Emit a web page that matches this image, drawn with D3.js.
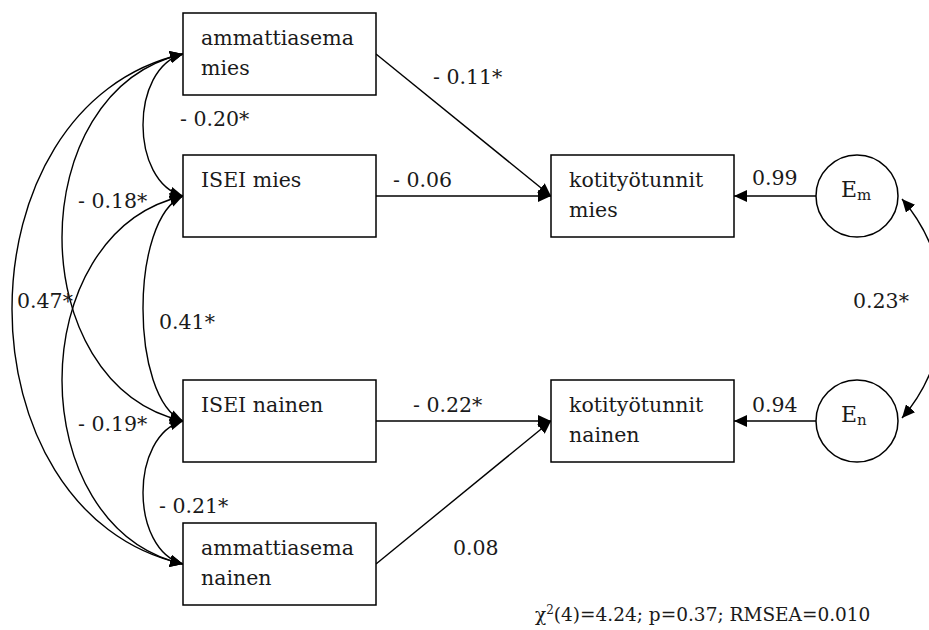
<!DOCTYPE html>
<html>
<head>
<meta charset="utf-8">
<script src="https://cdn.jsdelivr.net/npm/d3@7"></script>
<style>
  html, body { margin: 0; padding: 0; background: #fff; }
  svg { display: block; }
  text { font-family: "DejaVu Serif", "Liberation Serif", serif; fill: #1a1a1a; }
</style>
</head>
<body>
<svg id="chart" width="929" height="630"></svg>
<script>
// ---------- DATA ----------
const predictorLabels = [["ammattiasema", "mies"], ["ISEI mies"], ["ISEI nainen"], ["ammattiasema", "nainen"]];
const outcomeLabels = [["kotityötunnit", "mies"], ["kotityötunnit", "nainen"]];
const errorLabels = [["E", "m"], ["E", "n"]];
const pathFrom = [0, 1, 2, 3];
const pathTo = [0, 0, 1, 1];
const pathValues = ["- 0.11*", "- 0.06", "- 0.22*", "0.08"];
const errorLoadings = ["0.99", "0.94"];
const covPairs = [[0, 1], [0, 2], [0, 3], [1, 2], [1, 3], [2, 3]];
const covValues = ["- 0.20*", "- 0.18*", "0.47*", "0.41*", "- 0.19*", "- 0.21*"];
const errorCovValue = "0.23*";
const fitStat = ["χ", "2", "(4)=4.24; p=0.37; RMSEA=0.010"];

// ---------- LAYOUT ----------
const predRow = d3.scaleOrdinal().domain([0, 1, 2, 3]).range([13, 155, 380, 523]);
const outRow = d3.scaleOrdinal().domain([0, 1]).range([155, 380]);
const col = d3.scaleOrdinal().domain(["pred", "out", "err"]).range([183, 551, 857]);
const predW = 193, outW = 183, boxH = 82, errR = 41;
const covBulge = [40, 121, 171, 40, 121, 40];
const pathLabelPos = [[433, 84], [393, 187], [413, 412], [453, 555]];
const loadLabelPos = [[752, 185], [752, 412]];
const covLabelPos = [[180, 126], [78, 208], [17, 308], [159, 329], [78, 431], [159, 513]];
const fontSize = 20.5;

const svg = d3.select("#chart");
svg.append("defs").append("marker")
  .attr("id", "arrow")
  .attr("markerUnits", "userSpaceOnUse")
  .attr("viewBox", "0 0 13 12")
  .attr("markerWidth", 13).attr("markerHeight", 12)
  .attr("refX", 13).attr("refY", 6)
  .attr("orient", "auto-start-reverse")
  .append("path").attr("d", "M0,0L13,6L0,12Z").attr("fill", "#000");

const midPred = i => predRow(i) + boxH / 2;
const midOut = i => outRow(i) + boxH / 2;

// ---------- covariance arcs (left) ----------
const gCov = svg.append("g");
covPairs.forEach((p, i) => {
  const x = col("pred");
  const y1 = midPred(p[0]), y2 = midPred(p[1]);
  const chord = y2 - y1;
  const a = covBulge[i] / 0.75;
  const b = chord * 0.1;
  const path = d3.path();
  path.moveTo(x, y1);
  path.bezierCurveTo(x - a, y1 + b, x - a, y2 - b, x, y2);
  gCov.append("path").attr("d", path.toString())
    .attr("fill", "none").attr("stroke", "#000").attr("stroke-width", 1.4)
    .attr("marker-start", "url(#arrow)").attr("marker-end", "url(#arrow)");
  gCov.append("text").attr("x", covLabelPos[i][0]).attr("y", covLabelPos[i][1])
    .attr("font-size", fontSize).text(covValues[i]);
});

// ---------- regression paths ----------
pathFrom.forEach((f, i) => {
  const x1 = col("pred") + predW, y1 = midPred(f);
  const x2 = col("out"), y2 = midOut(pathTo[i]);
  svg.append("path").attr("d", d3.line()([[x1, y1], [x2, y2]]))
    .attr("fill", "none").attr("stroke", "#000").attr("stroke-width", 1.4)
    .attr("marker-end", "url(#arrow)");
  svg.append("text").attr("x", pathLabelPos[i][0]).attr("y", pathLabelPos[i][1])
    .attr("font-size", fontSize).text(pathValues[i]);
});

// ---------- error loadings ----------
errorLoadings.forEach((v, i) => {
  const y = midOut(i);
  svg.append("path").attr("d", d3.line()([[col("err") - errR, y], [col("out") + outW, y]]))
    .attr("fill", "none").attr("stroke", "#000").attr("stroke-width", 1.4)
    .attr("marker-end", "url(#arrow)");
  svg.append("text").attr("x", loadLabelPos[i][0]).attr("y", loadLabelPos[i][1])
    .attr("font-size", fontSize).text(v);
});

// ---------- error covariance (right) ----------
{
  const y1 = midOut(0) + 3, y2 = midOut(1) - 3;
  const x = col("err") + errR + 4;
  const r = 166.6;
  svg.append("path").attr("d", `M${x},${y1} A${r},${r} 0 0 1 ${x},${y2}`)
    .attr("fill", "none").attr("stroke", "#000").attr("stroke-width", 1.4)
    .attr("marker-start", "url(#arrow)").attr("marker-end", "url(#arrow)");
  svg.append("text").attr("x", 853).attr("y", 308).attr("font-size", fontSize).text(errorCovValue);
}

// ---------- boxes ----------
predictorLabels.forEach((lines, i) => {
  const g = svg.append("g");
  g.append("rect").attr("x", col("pred")).attr("y", predRow(i))
    .attr("width", predW).attr("height", boxH)
    .attr("fill", "#fff").attr("stroke", "#000").attr("stroke-width", 1.5);
  lines.forEach((t, j) => {
    g.append("text").attr("x", col("pred") + 18).attr("y", predRow(i) + 32 + j * 30)
      .attr("font-size", fontSize).text(t);
  });
});
outcomeLabels.forEach((lines, i) => {
  const g = svg.append("g");
  g.append("rect").attr("x", col("out")).attr("y", outRow(i))
    .attr("width", outW).attr("height", boxH)
    .attr("fill", "#fff").attr("stroke", "#000").attr("stroke-width", 1.5);
  lines.forEach((t, j) => {
    g.append("text").attr("x", col("out") + 18).attr("y", outRow(i) + 32 + j * 30)
      .attr("font-size", fontSize).text(t);
  });
});

// ---------- error circles ----------
errorLabels.forEach((lab, i) => {
  const cy = midOut(i);
  svg.append("circle").attr("cx", col("err")).attr("cy", cy).attr("r", errR)
    .attr("fill", "#fff").attr("stroke", "#000").attr("stroke-width", 1.5);
  const t = svg.append("text").attr("x", col("err") - 16).attr("y", cy + 1).attr("font-size", 22);
  t.append("tspan").text(lab[0]);
  t.append("tspan").attr("font-size", 15).attr("dy", 3).text(lab[1]);
});

// ---------- fit statistics ----------
{
  const t = svg.append("text").attr("x", 535).attr("y", 621).attr("font-size", 18.5);
  t.append("tspan").text(fitStat[0]);
  t.append("tspan").attr("font-size", 12).attr("dy", -7).text(fitStat[1]);
  t.append("tspan").attr("dy", 7).text(fitStat[2]);
}
</script>
</body>
</html>
